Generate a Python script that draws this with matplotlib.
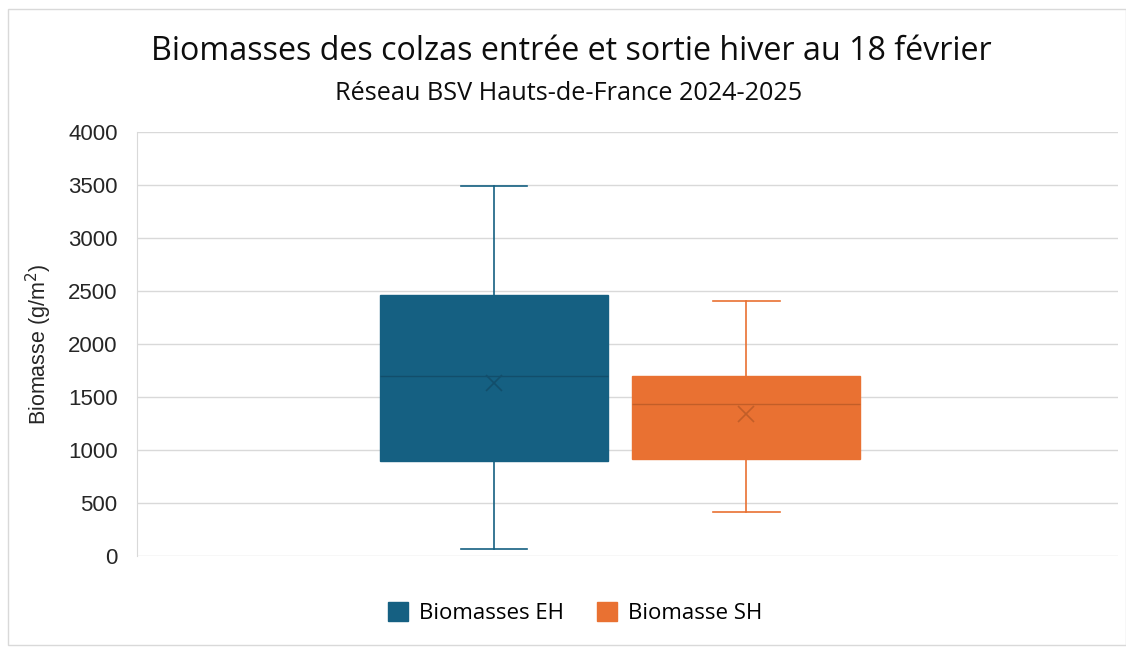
import matplotlib
matplotlib.use("Agg")
import matplotlib.pyplot as plt
from matplotlib.patches import Patch, Rectangle

series = ["Biomasses EH", "Biomasse SH"]
mins = [65, 415]
q1s = [900, 915]
medians = [1700, 1435]
q3s = [2465, 1700]
maxs = [3490, 2405]
means = [1635, 1340]
colors = ["#156082", "#E97132"]
dark = ["#124E6B", "#C25E28"]
yticks = [0, 500, 1000, 1500, 2000, 2500, 3000, 3500, 4000]

W, H = 1126, 651
fig = plt.figure(figsize=(W / 100, H / 100), dpi=100)
ax = fig.add_axes([137 / W, 1 - 556 / H, (1118 - 137) / W, (556 - 132) / H])

positions = [0.364, 0.621]
for i in range(2):
    st = dict(med=medians[i], q1=q1s[i], q3=q3s[i], whislo=mins[i], whishi=maxs[i],
              mean=means[i], fliers=[], label=series[i])
    ax.bxp([st], positions=[positions[i]], widths=0.233, patch_artist=True,
           showmeans=True, manage_ticks=False,
           boxprops=dict(facecolor=colors[i], edgecolor=colors[i], linewidth=1),
           medianprops=dict(color=dark[i], linewidth=1),
           whiskerprops=dict(color=colors[i], linewidth=1.2),
           capprops=dict(color=colors[i], linewidth=1.2),
           capwidths=0.068,
           meanprops=dict(marker="x", markeredgecolor=dark[i], markersize=11, markeredgewidth=1.2))

ax.set_xlim(0, 1)
ax.set_ylim(0, 4000)
ax.set_yticks(yticks)
ax.set_yticklabels([str(v) for v in yticks], fontfamily="Liberation Sans", fontsize=16, color="#262626")
ax.set_xticks([])
ax.grid(axis="y", color="#D9D9D9", linewidth=1)
ax.set_axisbelow(True)
for s in ["top", "right", "bottom"]:
    ax.spines[s].set_visible(False)
ax.spines["left"].set_color("#D9D9D9")
ax.tick_params(axis="y", length=0, pad=14)
ax.set_ylabel("Biomasse (g/m$^2$)", fontfamily="Liberation Sans", fontsize=15.5, color="#262626", labelpad=10)

fig.text(571 / W, 1 - 52 / H, "Biomasses des colzas entrée et sortie hiver au 18 février",
         ha="center", va="center", fontsize=23.2, fontfamily="Open Sans", color="#0D0D0D")
fig.text(569 / W, 1 - 94 / H, "Réseau BSV Hauts-de-France 2024-2025",
         ha="center", va="center", fontsize=18.2, fontfamily="Open Sans", color="#0D0D0D")

handles = [Patch(facecolor=colors[i], edgecolor=colors[i], label=series[i]) for i in range(2)]
fig.legend(handles=handles, loc="center", bbox_to_anchor=(575 / W, 1 - 613 / H), ncol=2,
           frameon=False, prop=dict(family="Open Sans", size=16), handlelength=0.9,
           handleheight=0.9, columnspacing=1.5, handletextpad=0.5)

fig.patches.append(Rectangle((8 / W, 1 - 645 / H), 1 - 8 / W, 636 / H, transform=fig.transFigure,
                             fill=False, edgecolor="#D9D9D9", linewidth=1))

fig.savefig("out.png", dpi=100, facecolor="white")
